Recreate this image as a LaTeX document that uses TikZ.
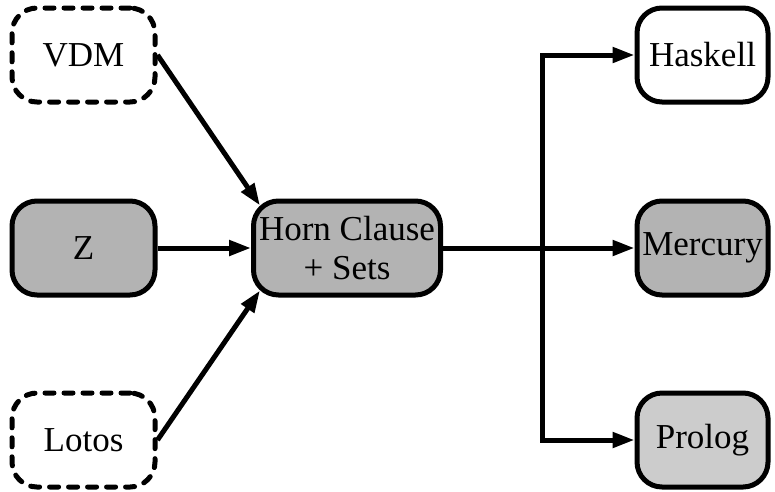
\documentclass[tikz,border=0pt]{standalone}
\usepackage{fontspec}
\setmainfont{Liberation Serif}
\usetikzlibrary{arrows.meta,calc}
\definecolor{gA}{HTML}{B3B3B3}
\definecolor{gB}{HTML}{CCCCCC}
\begin{document}
\begin{tikzpicture}[x=1pt,y=-1pt,
  box/.style={draw,line width=5pt,rounded corners=25pt,minimum width=143pt,minimum height=94pt,
    font=\fontsize{35}{39}\selectfont,align=center,inner sep=0pt},
  dbox/.style={box,dash pattern=on 9pt off 10pt,line cap=round},
  rbox/.style={box,minimum width=131pt},
  tip/.tip={Triangle[length=22pt,width=15pt]},
  arr/.style={line width=5pt,-tip},
  ]
\useasboundingbox (0,0) rectangle (775,491);
\node[dbox] (vdm) at (83.5,55) {VDM};
\node[box,fill=gA] (z) at (83.5,248) {Z};
\node[dbox] (lotos) at (83.5,440) {Lotos};
\node[box,fill=gA,minimum width=187pt] (horn) at (347,248) {Horn Clause\\+ Sets};
\node[rbox] (has) at (702.5,55) {Haskell};
\node[rbox,fill=gA] (mer) at (702.5,248) {Mercury};
\node[rbox,fill=gB] (pro) at (702.5,440) {Prolog};
\coordinate (br) at (542,248);
\draw[arr] (vdm.east) -- ($(horn.north west)+(9,7)$);
\draw[arr] (lotos.east) -- ($(horn.south west)+(9,-7)$);
\draw[arr] (z.east) -- (horn.west);
\draw[arr] (horn.east) -- (mer.west);
\draw[line width=5pt,tip-tip] (has.west) -| (br) |- (pro.west);
\end{tikzpicture}
\end{document}
